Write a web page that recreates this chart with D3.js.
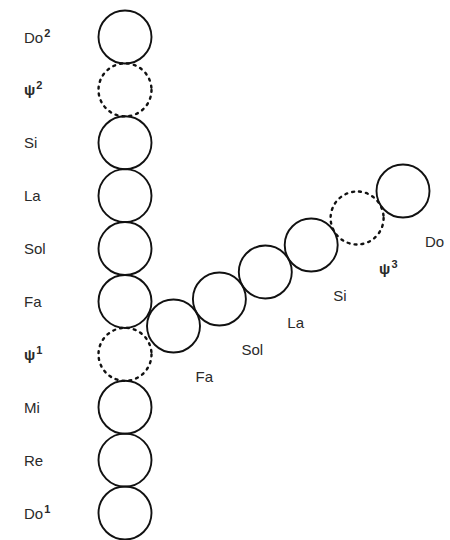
<!DOCTYPE html>
<html>
<head>
<script src="https://cdn.jsdelivr.net/npm/d3@7"></script>
<style>
body{margin:0;background:#fff}
svg{display:block}
text{font-family:"Liberation Sans",Arial,sans-serif;font-size:15px;fill:#2a2a2a}
</style>
</head>
<body>
<script>
// vertical column, bottom to top
var colNotes = ["Do", "Re", "Mi", "\u03c8", "Fa", "Sol", "La", "Si", "\u03c8", "Do"];
var colSup   = ["1", "", "", "1", "", "", "", "", "2", "2"];
var colGap   = [false, false, false, true, false, false, false, false, true, false];

// diagonal branch, starting next to Fa
var armNotes = ["Fa", "Sol", "La", "Si", "\u03c8", "Do"];
var armSup   = ["", "", "", "", "3", ""];
var armGap   = [false, false, false, false, true, false];

var W = 450, H = 540, r = 26.5;

var svg = d3.select("body").append("svg")
    .attr("width", W)
    .attr("height", H);

var colY = d3.scaleLinear().domain([0, colNotes.length - 1]).range([513, 37]);
var colX = 125;
var armX = d3.scaleLinear().domain([0, armNotes.length - 1]).range([173.5, 403]);
var armY = d3.scaleLinear().domain([0, armNotes.length - 1]).range([326, 191]);

function ring(sel) {
    sel.attr("r", r)
        .attr("fill", "none")
        .attr("stroke", "#111")
        .attr("stroke-width", function(d){ return d.gap ? 2.4 : 1.9; })
        .attr("stroke-dasharray", function(d){ return d.gap ? "2,5" : null; })
        .attr("stroke-linecap", "round");
}

function label(sel) {
    sel.append("tspan").text(function(d){ return d.note; })
        .style("font-weight", function(d){ return d.note == "\u03c8" ? "bold" : null; });
    sel.append("tspan")
        .attr("dy", -6)
        .attr("dx", 1)
        .style("font-size", "11px")
        .style("font-weight", "bold")
        .text(function(d){ return d.sup; });
}

var col = colNotes.map(function(n, i){ return {note: n, sup: colSup[i], gap: colGap[i], i: i}; });
var arm = armNotes.map(function(n, i){ return {note: n, sup: armSup[i], gap: armGap[i], i: i}; });

svg.selectAll("circle.col").data(col).enter().append("circle")
    .attr("class", "col")
    .attr("cx", colX)
    .attr("cy", function(d){ return colY(d.i); })
    .call(ring);

svg.selectAll("circle.arm").data(arm).enter().append("circle")
    .attr("class", "arm")
    .attr("cx", function(d){ return armX(d.i); })
    .attr("cy", function(d){ return armY(d.i); })
    .call(ring);

svg.selectAll("text.col").data(col).enter().append("text")
    .attr("class", "col")
    .attr("x", 24)
    .attr("y", function(d){ return colY(d.i) + 5.5; })
    .call(label);

svg.selectAll("text.arm").data(arm).enter().append("text")
    .attr("class", "arm")
    .attr("x", function(d){ return armX(d.i) + 22; })
    .attr("y", function(d){ return armY(d.i) + 56; })
    .call(label);
</script>
</body>
</html>
